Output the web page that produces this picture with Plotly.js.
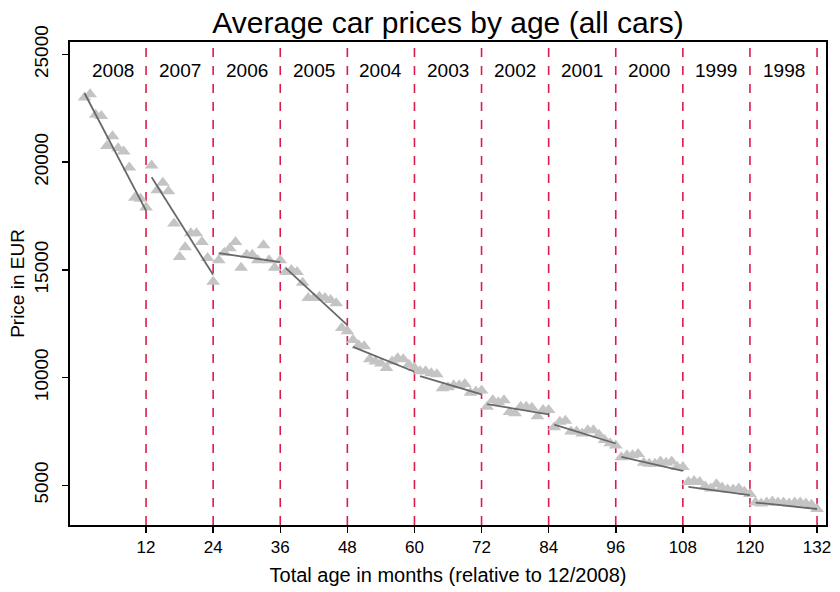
<!DOCTYPE html>
<html>
<head>
<meta charset="utf-8">
<script src="https://cdn.plot.ly/plotly-3.0.1.min.js"></script>
<style>html,body{margin:0;padding:0;background:#fff;}#chart{width:840px;height:592px;}</style>
</head>
<body>
<div id="chart"></div>
<script>
// Model years, in order of increasing age
var years = ["2008","2007","2006","2005","2004","2003","2002","2001","2000","1999","1998"];

// Monthly average prices (EUR), 12 months per model year
var p2008 = [23000,23150,22200,22150,20750,21200,20650,20500,19750,18350,18300,17900];
var p2007 = [19850,18700,19050,18650,17150,15600,16050,16700,16700,16300,15550,14450];
var p2006 = [15450,15800,16000,16300,15100,15700,15700,15450,16150,15450,15100,15450];
var p2005 = [14900,15000,14900,14400,13700,13700,13750,13700,13600,13450,12300,12150];
var p2004 = [11750,11500,11450,10850,10750,10650,10450,10750,10900,10850,10600,10450];
var p2003 = [10300,10300,10200,10150,9500,9550,9650,9650,9700,9300,9350,9400];
var p2002 = [8650,8950,8850,8950,8400,8350,8650,8650,8600,8200,8500,8500];
var p2001 = [7700,7950,8000,7500,7500,7400,7550,7550,7350,7100,6950,6850];
var p2000 = [6300,6400,6400,6450,6050,6000,6000,6100,6050,6100,5850,5850];
var p1999 = [5150,5200,5150,4950,4850,5050,4900,4800,4800,4850,4700,4600];
var p1998 = [4200,4150,4200,4250,4200,4200,4150,4200,4200,4150,4100,3900];

// Fitted line per model year: value at first and last month
var fitStart = [23200,19300,15780,15080,11430,10070,8770,7820,6320,4930,4200];
var fitEnd   = [17750,14770,15360,12440,10270,9220,8290,6940,5670,4540,3900];

// Axis ticks
var xTicks = [12,24,36,48,60,72,84,96,108,120,132];
var yTicks = [5000,10000,15000,20000,25000];

var yearPrices = [p2008,p2007,p2006,p2005,p2004,p2003,p2002,p2001,p2000,p1999,p1998];
var months = [], prices = [];
yearPrices.forEach(function(arr, k){
  arr.forEach(function(v, i){ months.push(k*12 + i + 1); prices.push(v); });
});

var lx = [], ly = [];
years.forEach(function(y, k){
  lx.push(k*12 + 1, k*12 + 12, null);
  ly.push(fitStart[k], fitEnd[k], null);
});

var FONT = 'Liberation Sans, Arial, sans-serif';

var traces = [
  {type:'scatter', mode:'markers', x:months, y:prices,
   marker:{symbol:'triangle-up', size:12, color:'#c4c4c4', line:{width:0}}, hoverinfo:'x+y'},
  {type:'scatter', mode:'lines', x:lx, y:ly, line:{color:'#686868', width:1.8}, connectgaps:false}
];

var shapes = xTicks.map(function(t){
  return {type:'line', xref:'x', yref:'paper', x0:t, x1:t, y0:0, y1:1,
          line:{color:'#d81e4a', width:1.6, dash:'dash'}, layer:'below'};
});

var annotations = years.map(function(y, k){
  return {x:k*12 + 6, y:0.942, xref:'x', yref:'paper', yanchor:'middle', xanchor:'center',
          text:y, showarrow:false,
          font:{family:FONT, size:19, color:'#000'}};
});

var layout = {
  width:840, height:592,
  margin:{l:70, r:14, t:42, b:67},
  paper_bgcolor:'#fff', plot_bgcolor:'#fff',
  showlegend:false,
  font:{family:FONT, color:'#000'},
  title:{text:'Average car prices by age (all cars)', x:0.5, xref:'paper', xanchor:'center',
         y:0.962, yref:'container', yanchor:'middle',
         font:{family:FONT, size:30, color:'#000'}},
  xaxis:{range:[-1.6,133.6], tickvals:xTicks, ticktext:xTicks.map(String),
         showgrid:false, zeroline:false, showline:true, linecolor:'#000', linewidth:2,
         mirror:true, ticks:'outside', ticklen:6, tickwidth:1.5, tickcolor:'#000',
         tickfont:{size:17},
         title:{text:'Total age in months (relative to 12/2008)', font:{size:20}, standoff:12}},
  yaxis:{range:[3157,25580], tickvals:yTicks, ticktext:yTicks.map(String), tickangle:-90,
         showgrid:false, zeroline:false, showline:true, linecolor:'#000', linewidth:2,
         mirror:true, ticks:'outside', ticklen:6, tickwidth:1.5, tickcolor:'#000',
         tickfont:{size:19}, ticklabelstandoff:6,
         title:{text:'Price in EUR', font:{size:19}, standoff:2}},
  shapes:shapes,
  annotations:annotations
};

Plotly.newPlot('chart', traces, layout, {displayModeBar:false, staticPlot:true});
</script>
</body>
</html>
